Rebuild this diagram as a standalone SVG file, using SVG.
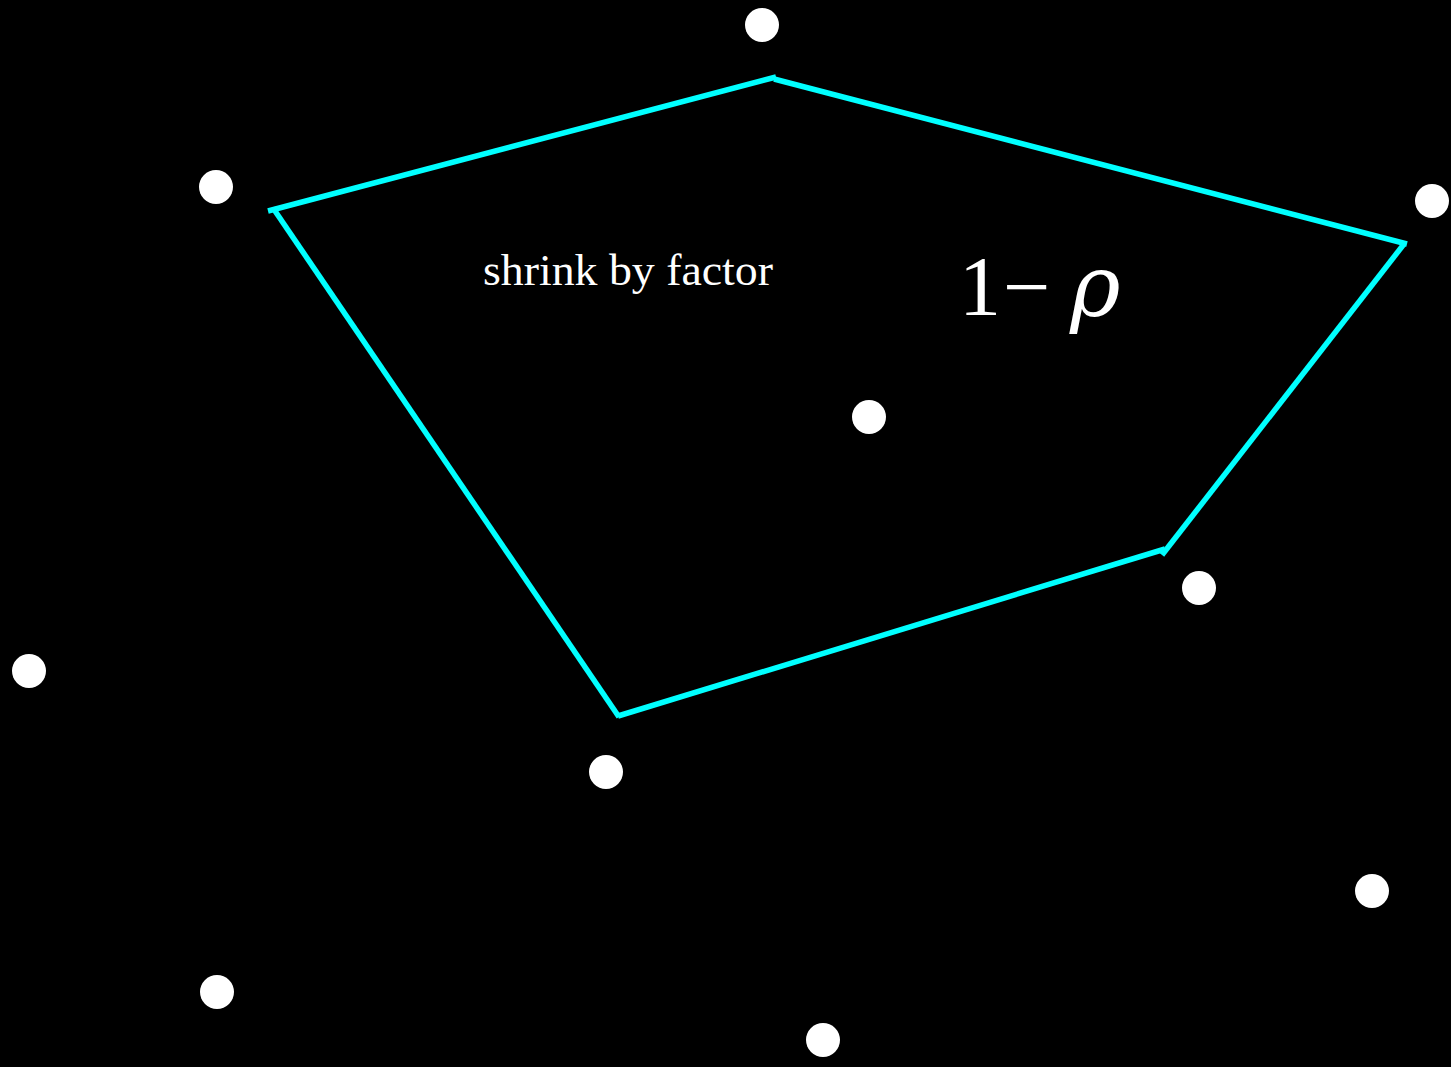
<svg xmlns="http://www.w3.org/2000/svg" width="1451" height="1067" viewBox="0 0 1451 1067">
<style>
.dot{fill:#ffffff}
.edge{stroke:#00ffff;stroke-width:5.5;fill:none;stroke-linecap:butt}
.lbl{fill:#ffffff;font-family:"Liberation Serif","DejaVu Serif",serif}
</style>
<rect x="0" y="0" width="1451" height="1067" fill="#000000"/>
<g id="connectors">
<line class="edge" x1="268" y1="211" x2="776" y2="77"/>
<line class="edge" x1="774" y1="79" x2="1407" y2="244"/>
<line class="edge" x1="1404" y1="244" x2="1162" y2="555"/>
<line class="edge" x1="1165" y1="549" x2="618" y2="716"/>
<line class="edge" x1="619" y1="717" x2="273" y2="208"/>
</g>
<g id="points">
<circle id="p1" class="dot" cx="762" cy="25" r="17"/>
<circle id="p2" class="dot" cx="216" cy="187" r="17"/>
<circle id="p3" class="dot" cx="1432" cy="201" r="17"/>
<circle id="p4" class="dot" cx="869" cy="417" r="17"/>
<circle id="p5" class="dot" cx="1199" cy="588" r="17"/>
<circle id="p6" class="dot" cx="29" cy="671" r="17"/>
<circle id="p7" class="dot" cx="606" cy="772" r="17"/>
<circle id="p8" class="dot" cx="1372" cy="891" r="17"/>
<circle id="p9" class="dot" cx="217" cy="992" r="17"/>
<circle id="p10" class="dot" cx="823" cy="1040" r="17"/>
</g>
<g id="labels">
<text class="lbl" x="483" y="285" font-size="44" textLength="290" lengthAdjust="spacingAndGlyphs">shrink by factor</text>
<text class="lbl" x="959" y="315" font-size="84">1</text>
<text class="lbl" x="1003" y="315" font-size="84">−</text>
<text class="lbl" x="1070" y="316" font-size="86" font-style="italic" style="font-family:'DejaVu Serif',serif">ρ</text>
</g>
</svg>
